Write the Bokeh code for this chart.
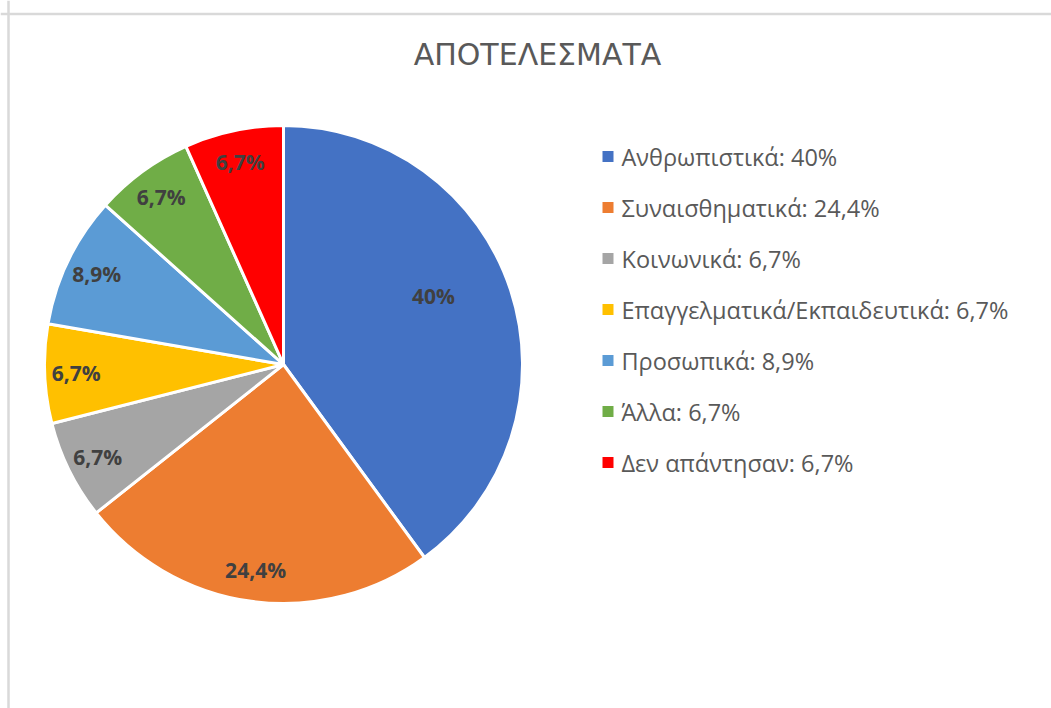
import math
from bokeh.plotting import figure
from bokeh.models import Range1d, Span, ColumnDataSource
from bokeh.core.properties import value
from bokeh.embed import file_html
from bokeh.resources import INLINE

# ---- data ----
title = "ΑΠΟΤΕΛΕΣΜΑΤΑ"
categories = ["Ανθρωπιστικά", "Συναισθηματικά", "Κοινωνικά",
              "Επαγγελματικά/Εκπαιδευτικά", "Προσωπικά", "Άλλα", "Δεν απάντησαν"]
shares = [40.0, 24.4, 6.7, 6.7, 8.9, 6.7, 6.7]
share_labels = ["40%", "24,4%", "6,7%", "6,7%", "8,9%", "6,7%", "6,7%"]
colors = ["#4472C4", "#ED7D31", "#A5A5A5", "#FFC000", "#5B9BD5", "#70AD47", "#FF0000"]

# ---- layout (pixel-like data space) ----
W, H = 1051, 708
OFF = 0


def py(page_y):
    return H + OFF - page_y


def px(page_x):
    return page_x - OFF


cx, cy, R = px(283), py(364), 239

total = sum(shares)
starts, ends, lx, ly = [], [], [], []
cum = 0.0
for s in shares:
    f = s / total
    a0 = math.pi / 2 - 2 * math.pi * cum
    a1 = math.pi / 2 - 2 * math.pi * (cum + f)
    starts.append(a0)
    ends.append(a1)
    mid = (a0 + a1) / 2
    if f > 0.3:
        rf, mid = 0.69, mid + math.radians(6.5)
    else:
        rf = 0.868
    lx.append(cx + rf * R * math.cos(mid))
    ly.append(cy + rf * R * math.sin(mid))
    cum += f

src = ColumnDataSource(dict(start=starts, end=ends, color=colors,
                            lx=lx, ly=ly, lab=share_labels))

p = figure(width=W, height=H, output_backend="svg", toolbar_location=None,
           x_range=Range1d(0, W), y_range=Range1d(0, H),
           x_axis_type=None, y_axis_type=None, min_border=0,
           background_fill_color="white", border_fill_color="white")
p.outline_line_color = None
p.grid.visible = False

# chart-area border (top and left visible)
p.add_layout(Span(location=py(13.5), dimension="width", line_color="#d9d9d9", line_width=2.5))
p.add_layout(Span(location=px(8), dimension="height", line_color="#d9d9d9", line_width=2.5))

p.wedge(x=cx, y=cy, radius=R, start_angle="start", end_angle="end",
        direction="clock", fill_color="color", line_color="white", line_width=3,
        source=src)

p.text(x="lx", y="ly", text="lab", source=src, text_align="center",
       text_baseline="middle", text_font=value("Open Sans"),
       text_font_style="bold", text_font_size="21px", text_color="#404040")

p.text(x=[px(537)], y=[py(54)], text=[title], text_align="center",
       text_baseline="middle", text_font=value("DejaVu Sans"),
       text_font_size="30px", text_color="#595959")

# legend
leg_y = [py(156 + 51 * i) for i in range(len(categories))]
leg_text = [f"{c}: {l}" for c, l in zip(categories, share_labels)]
leg = ColumnDataSource(dict(y=leg_y, t=leg_text, color=colors))
p.rect(x=px(607.5), y="y", width=11, height=11, fill_color="color",
       line_color=None, source=leg)
p.text(x=px(621), y="y", text="t", source=leg, text_align="left",
       text_baseline="middle", text_font=value("Open Sans"),
       text_font_size="23.5px", text_color="#595959")

open("out.html", "w").write(file_html(p, INLINE))
